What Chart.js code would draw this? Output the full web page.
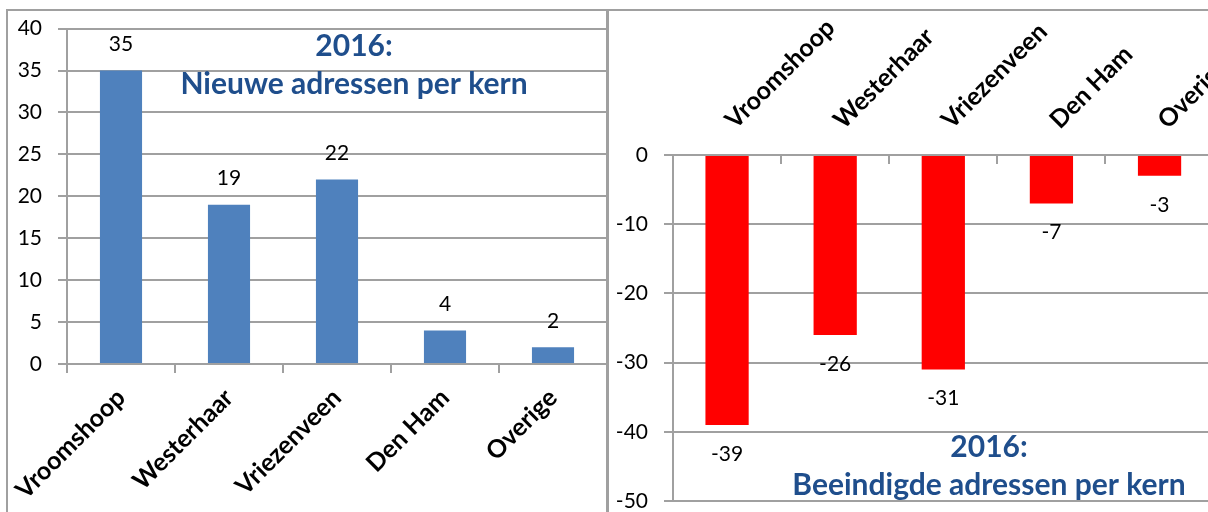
<!DOCTYPE html>
<html>
<head>
<meta charset="utf-8">
<script src="https://cdn.jsdelivr.net/npm/chart.js@4.4.1/dist/chart.umd.min.js"></script>
<style>
  html, body { margin: 0; padding: 0; width: 1208px; height: 512px; overflow: hidden; background: #fff; }
  .box { position: absolute; box-sizing: border-box; border: 2px solid #a0a0a0; border-bottom: none; }
  #box1 { left: 6px; top: 9px; width: 602px; height: 503px; }
  #box2 { left: 607px; top: 9px; width: 700px; height: 503px; border-right: none; }
  #c1 { position: absolute; left: 0; top: 0; }
  #c2 { position: absolute; left: 607px; top: 0; }
</style>
</head>
<body>
<div class="box" id="box1"></div>
<div class="box" id="box2"></div>
<canvas id="c1" width="607" height="512"></canvas>
<canvas id="c2" width="648" height="530"></canvas>
<script>
const kernen = ['Vroomshoop', 'Westerhaar', 'Vriezenveen', 'Den Ham', 'Overige'];
const nieuw = [35, 19, 22, 4, 2];
const beeindigd = [-39, -26, -31, -7, -3];
const nieuwTicks = [0, 5, 10, 15, 20, 25, 30, 35, 40];
const beeindigdTicks = [-50, -40, -30, -20, -10, 0];
const titelNieuw = ['2016:', 'Nieuwe adressen per kern'];
const titelBeeindigd = ['2016:', 'Beeindigde adressen per kern'];

const GRID = '#a0a0a0';
const FONT = 'Lato';

// value labels above / below each bar
const valueLabels = {
  id: 'valueLabels',
  afterDatasetsDraw(chart, args, opts) {
    const ctx = chart.ctx;
    const data = chart.data.datasets[0].data;
    ctx.save();
    ctx.font = '21px ' + FONT;
    ctx.fillStyle = '#000';
    ctx.textAlign = 'center';
    ctx.textBaseline = 'middle';
    chart.getDatasetMeta(0).data.forEach((bar, i) => {
      const v = data[i];
      const y = v >= 0 ? bar.y - opts.offset : bar.y + opts.offset;
      ctx.fillText(String(v), bar.x, y);
    });
    ctx.restore();
  }
};

// title drawn inside the plot area
const innerTitle = {
  id: 'innerTitle',
  afterDraw(chart, args, opts) {
    const { ctx, chartArea } = chart;
    ctx.save();
    ctx.font = 'bold 30px ' + FONT;
    ctx.fillStyle = '#1f4e8c';
    ctx.textAlign = 'center';
    ctx.textBaseline = 'middle';
    opts.lines.forEach((t, i) => {
      ctx.fillText(t, chartArea.left + opts.x, chartArea.top + opts.y + i * 38);
    });
    ctx.restore();
  }
};

function yScale(ticks, width) {
  return {
    min: ticks[0],
    max: ticks[ticks.length - 1],
    afterBuildTicks: s => { s.ticks = ticks.map(v => ({ value: v })); },
    afterFit: s => { s.width = width; },
    grid: { color: GRID, lineWidth: 2, tickLength: 9 },
    border: { color: GRID, width: 2 },
    ticks: { color: '#000', padding: 16, font: { family: FONT, size: 21 } }
  };
}

new Chart(document.getElementById('c1'), {
  type: 'bar',
  data: {
    labels: kernen,
    datasets: [{ data: nieuw, backgroundColor: '#4f81bd', barPercentage: 0.39, categoryPercentage: 1 }]
  },
  options: {
    responsive: false,
    animation: false,
    layout: { padding: { top: 27, left: 0, right: 0, bottom: 0 } },
    plugins: {
      legend: { display: false },
      tooltip: { enabled: false },
      valueLabels: { offset: 26 },
      innerTitle: { lines: titelNieuw, x: 287, y: 18 }
    },
    scales: {
      x: {
        afterFit: s => { s.height = 148; },
        grid: { color: GRID, lineWidth: 2, tickLength: 9, drawOnChartArea: false },
        border: { color: GRID, width: 2 },
        ticks: { color: '#000', padding: 10, minRotation: 45, maxRotation: 45, font: { family: FONT, size: 25, weight: 'bold' } }
      },
      y: yScale(nieuwTicks, 67)
    }
  },
  plugins: [valueLabels, innerTitle]
});

new Chart(document.getElementById('c2'), {
  type: 'bar',
  data: {
    labels: kernen,
    datasets: [{ data: beeindigd, backgroundColor: '#ff0000', barPercentage: 0.4, categoryPercentage: 1 }]
  },
  options: {
    responsive: false,
    animation: false,
    layout: { padding: { top: 0, left: 0, right: 40, bottom: 29 } },
    plugins: {
      legend: { display: false },
      tooltip: { enabled: false },
      valueLabels: { offset: 29 },
      innerTitle: { lines: titelBeeindigd, x: 316, y: 292 }
    },
    scales: {
      x: {
        position: 'top',
        afterFit: s => { s.height = 155; },
        grid: { color: GRID, lineWidth: 2, tickLength: -9, drawOnChartArea: false },
        border: { color: GRID, width: 2 },
        ticks: { color: '#000', padding: 29, labelOffset: 24, minRotation: 45, maxRotation: 45, font: { family: FONT, size: 25, weight: 'bold' } }
      },
      y: yScale(beeindigdTicks, 66)
    }
  },
  plugins: [valueLabels, innerTitle]
});
</script>
</body>
</html>
